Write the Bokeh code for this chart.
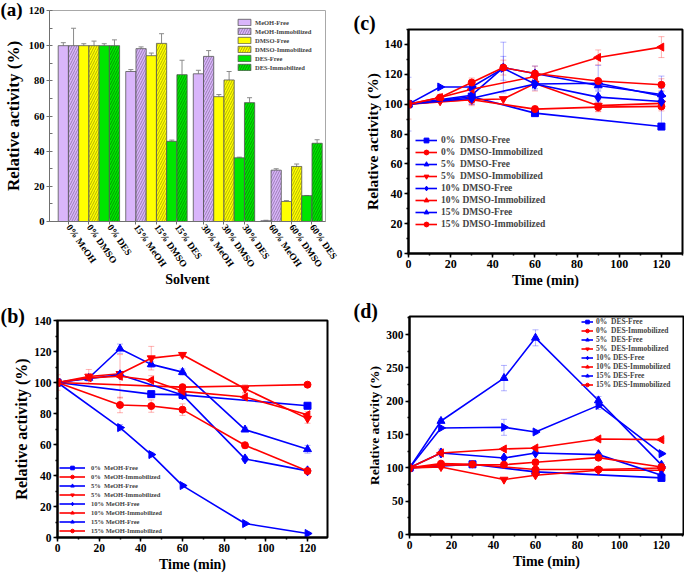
import math
from bokeh.plotting import figure
from bokeh.models import (ColumnDataSource, Whisker, TeeHead, Legend, LegendItem, Title,
                          FixedTicker, SingleIntervalTicker, Range1d)
from bokeh.layouts import column, row
from bokeh.embed import file_html
from bokeh.resources import INLINE

FONT = "Liberation Serif"

# ---------------- panel (a) data ----------------
categories = ["0% MeOH", "0% DMSO", "0% DES", "15% MeOH", "15% DMSO", "15% DES",
              "30% MeOH", "30% DMSO", "30% DES", "60% MeOH", "60% DMSO", "60% DES"]
solvents = ["MeOH", "DMSO", "DES"]
free_vals = [100, 100, 100, 85.3, 94.3, 45.6, 84.0, 71.0, 36.2, 0.4, 11.4, 14.7]
imm_vals = [100, 100, 100, 98.3, 101.3, 83.5, 93.9, 80.5, 67.6, 29.2, 31.3, 44.5]
free_err = [1.7, 1.1, 1.1, 1.1, 1.5, 0.7, 2.0, 1.2, 0.4, 0.3, 0.5, 0.1]
imm_err = [9.9, 2.6, 3.3, 1.0, 5.5, 8.2, 3.3, 4.8, 2.8, 0.8, 1.4, 2.0]
solvent_colors = ["#D9B5FA", "#FFFF00", "#00E600"]
hatch_colors = ["#6A5580", "#7A7A00", "#006400"]

# ---------------- time-course data ----------------
times = [0, 15, 30, 45, 60, 90, 120]
concs = ["0%", "5%", "10%", "15%"]

meoh_free_0 = [100, None, None, 92.5, 92.0, None, 85.0]
meoh_free_5 = [100, 102.9, 121.8, 111.7, 106.7, 69.6, 56.9]
meoh_free_10 = [100, None, 105.0, None, 92.0, 50.7, 43.0]
meoh_free_15 = [100, None, 70.9, 53.5, 33.5, 9.0, 2.6]
meoh_imm_0 = [100, None, None, None, 97.0, None, 98.6]
meoh_imm_5 = [100, 103.9, 105.6, 115.7, 117.9, 96.0, 76.7]
meoh_imm_10 = [100, 103.0, 104.0, 101.4, 94.3, 90.6, 79.2]
meoh_imm_15 = [100, None, 85.5, 84.8, 82.5, 59.5, 42.9]
meoh_free_err_0 = [1.5, 0, 0, 2, 1.5, 0, 1.5]
meoh_free_err_5 = [1.5, 2, 3, 2, 2, 1.5, 2.5]
meoh_free_err_10 = [1, 0, 1.5, 0, 1.5, 1.5, 1.5]
meoh_free_err_15 = [1, 0, 2, 1.5, 1, 1, 1]
meoh_imm_err_0 = [5, 0, 0, 0, 1.5, 0, 1]
meoh_imm_err_5 = [0, 4.5, 0, 7.6, 1.5, 2.5, 3]
meoh_imm_err_10 = [0, 0, 14, 3, 1, 2, 2]
meoh_imm_err_15 = [0, 0, 5, 4, 3.7, 2, 1.5]

dmso_free_0 = [100, None, 105.0, None, 94.0, None, 85.0]
dmso_free_5 = [100, None, 106.0, 124.5, 120.5, 112.5, 106.5]
dmso_free_10 = [100, None, 104.0, None, 113.5, 104.7, 101.8]
dmso_free_15 = [100, 111.5, 111.5, 124.0, 113.5, 114.0, 105.5]
dmso_imm_0 = [100, None, 103.0, None, 96.7, 98.0, 98.5]
dmso_imm_5 = [100, 102.0, 103.0, 103.5, 113.8, 99.0, 100.5]
dmso_imm_10 = [100, 104.5, 110.0, None, 118.5, 131.3, 138.2]
dmso_imm_15 = [100, 104.5, 114.5, 124.5, 120.5, 115.5, 113.0]
dmso_free_err_0 = [18, 0, 0, 0, 0, 0, 0]
dmso_free_err_5 = [0, 0, 6, 17, 5, 3, 4]
dmso_free_err_10 = [0, 0, 4, 0, 4, 4, 17]
dmso_free_err_15 = [0, 1, 1, 8, 3, 12, 3]
dmso_imm_err_0 = [10, 0, 4, 0, 2, 3, 3]
dmso_imm_err_5 = [0, 0, 3, 0, 5, 4, 2]
dmso_imm_err_10 = [0, 0, 3, 0, 3, 5, 7]
dmso_imm_err_15 = [0, 0, 3, 5, 5, 0, 4]

des_free_0 = [100, None, 105.3, None, 93.9, None, 84.9]
des_free_5 = [100, 170.2, None, 234.6, 295.0, 201.0, 104.5]
des_free_10 = [100, 122.3, None, 114.8, 122.3, 119.8, 89.0]
des_free_15 = [100, 159.8, None, 160.8, 153.8, 193.7, 121.3]
des_imm_0 = [100, 106.3, 105.3, None, 97.4, 97.4, 99.8]
des_imm_5 = [100, 101.3, None, 82.4, 88.9, 96.4, 96.4]
des_imm_10 = [100, 122.3, None, 128.3, 129.8, 143.3, 142.3]
des_imm_15 = [100, 104.0, None, 104.8, 108.3, 115.3, 101.3]
des_free_err_0 = [4, 0, 0, 0, 0, 0, 2]
des_free_err_5 = [0, 3, 0, 19, 12, 6, 3]
des_free_err_10 = [0, 0, 0, 0, 0, 0, 3]
des_free_err_15 = [0, 0, 0, 12, 3, 6, 2]
des_imm_err_0 = [0, 0, 0, 0, 0, 0, 0]
des_imm_err_5 = [0, 0, 0, 0, 0, 0, 0]
des_imm_err_10 = [0, 6, 0, 0, 0, 3, 2]
des_imm_err_15 = [0, 0, 0, 0, 0, 0, 0]

BLUE = "#0000FF"
RED = "#FF0000"
free_markers = [("square", 0.0, 7), ("triangle", 0.0, 8), ("diamond", 0.0, 10), ("triangle", -math.pi / 2, 8)]
imm_markers = [("circle", 0.0, 7), ("inverted_triangle", 0.0, 8), ("triangle", math.pi / 2, 8), ("circle", 0.0, 7)]


def bold_axis(ax, tick_fs, label_fs, color="black", lw=2):
    ax.axis_line_width = lw
    ax.axis_line_color = color
    ax.major_tick_line_color = color
    ax.minor_tick_line_color = color
    ax.major_tick_line_width = lw
    ax.minor_tick_line_width = lw
    ax.major_label_text_font = FONT
    ax.major_label_text_font_style = "bold"
    ax.major_label_text_font_size = tick_fs
    ax.major_label_text_color = "black"
    ax.axis_label_text_font = FONT
    ax.axis_label_text_font_style = "bold"
    ax.axis_label_text_font_size = label_fs
    ax.axis_label_text_color = "black"
    ax.major_label_standoff = 2
    ax.axis_label_standoff = 2


def add_letter_title(p, text, offset, standoff, size="20px"):
    p.add_layout(Title(text=text, align="left", offset=offset, standoff=standoff,
                       vertical_align="bottom", text_font=FONT, text_font_style="bold",
                       text_font_size=size, text_color="black"), "above")


# ---------------- panel (a) ----------------
pa = figure(width=340, height=290, output_backend="svg", toolbar_location=None, title=None,
            x_range=Range1d(-4.25, 130.6), y_range=Range1d(0, 120),
            min_border_left=49, min_border_right=15, min_border_top=10, min_border_bottom=56,
            x_axis_label="Solvent", y_axis_label="Relative activity (%)")
pa.xgrid.visible = False
pa.ygrid.visible = False
pa.outline_line_color = "#A8A8A8"
pa.outline_line_width = 1
cat_pos = [(i // 3) * 33 + (i % 3) * 10 + 5 for i in range(len(categories))]
items_a = []
for s, solv in enumerate(solvents):
    idx = [g * 3 + s for g in range(4)]
    xf = [cat_pos[i] - 2.5 for i in idx]
    xi = [cat_pos[i] + 2.5 for i in idx]
    rf = pa.vbar(x=xf, top=[free_vals[i] for i in idx], width=5, fill_color=solvent_colors[s],
                 line_color="#555555", line_width=0.8)
    ri = pa.vbar(x=xi, top=[imm_vals[i] for i in idx], width=5, fill_color=solvent_colors[s],
                 line_color="#555555", line_width=0.8, hatch_pattern="/", hatch_color=hatch_colors[s],
                 hatch_scale=5, hatch_weight=0.7, hatch_alpha=0.8)
    for xs, vals, errs in ((xf, free_vals, free_err), (xi, imm_vals, imm_err)):
        src = ColumnDataSource(dict(x=xs, lo=[vals[i] for i in idx], hi=[vals[i] + errs[i] for i in idx]))
        pa.add_layout(Whisker(source=src, base="x", lower="lo", upper="hi", line_color="#8A8A8A",
                              line_width=1, lower_head=None,
                              upper_head=TeeHead(size=5, line_color="#8A8A8A", line_width=1)))
    items_a.append(LegendItem(label=f"{solv}-Free", renderers=[rf]))
    items_a.append(LegendItem(label=f"{solv}-Immobilized", renderers=[ri]))
xa = pa.xaxis[0]
ya = pa.yaxis[0]
bold_axis(xa, "9.5px", "14px", color="#707070", lw=1)
bold_axis(ya, "10.5px", "17px", color="#707070", lw=1)
xa.ticker = FixedTicker(ticks=cat_pos)
xa.major_label_overrides = {cp: c for cp, c in zip(cat_pos, categories)}
xa.major_label_orientation = -0.96
xa.major_tick_in = 3
xa.major_tick_out = 3
xa.major_label_standoff = 1
xa.axis_label_standoff = -3
ya.ticker = SingleIntervalTicker(interval=20, num_minor_ticks=2)
ya.major_tick_out = 3
ya.major_tick_in = 0
ya.minor_tick_in = 3
ya.minor_tick_out = 0
ya.major_label_standoff = 2
ya.axis_label_standoff = 3
leg_a = Legend(items=items_a, location="top_right", margin=8, glyph_width=16, glyph_height=8,
               label_height=8, label_width=62, spacing=1, padding=0, label_standoff=3,
               label_text_font=FONT, label_text_font_style="bold", label_text_font_size="6.5px",
               border_line_alpha=0, background_fill_alpha=0)
pa.add_layout(leg_a)
add_letter_title(pa, "(a)", -49, -18, "19px")


# ---------------- time panels ----------------
def time_panel(solvent, free_sets, free_errs, imm_sets, imm_errs, width, height, borders,
               xmax, ymax, yint, tick_fs, ylab_fs, leg_kw, leg_fs, leg_row, leg_gw, leg_so):
    p = figure(width=width, height=height, output_backend="svg", toolbar_location=None, title=None,
               x_range=Range1d(0, xmax), y_range=Range1d(0, ymax),
               min_border_left=borders[0], min_border_right=borders[1],
               min_border_top=borders[2], min_border_bottom=borders[3],
               x_axis_label="Time (min)", y_axis_label="Relative activity (%)")
    p.xgrid.visible = False
    p.ygrid.visible = False
    p.outline_line_color = "black"
    p.outline_line_width = 2
    xa, ya = p.xaxis[0], p.yaxis[0]
    bold_axis(xa, tick_fs, "14px")
    bold_axis(ya, tick_fs, ylab_fs)
    ya.axis_label_standoff = 1
    xa.ticker = SingleIntervalTicker(interval=20, num_minor_ticks=2)
    ya.ticker = SingleIntervalTicker(interval=yint, num_minor_ticks=2)
    for ax in (xa, ya):
        ax.major_tick_out = 4
        ax.major_tick_in = 0
        ax.minor_tick_out = 2
        ax.minor_tick_in = 0
        ax.major_tick_line_width = 1.5
        ax.minor_tick_line_width = 1.5
    items = []
    for i in range(4):
        for vals, errs, color, mk, kind in ((free_sets[i], free_errs[i], BLUE, free_markers[i], "Free"),
                                            (imm_sets[i], imm_errs[i], RED, imm_markers[i], "Immobilized")):
            pts = [(t, v, e) for t, v, e in zip(times, vals, errs) if v is not None]
            src = ColumnDataSource(dict(x=[q[0] for q in pts], y=[q[1] for q in pts]))
            ep = [q for q in pts if q[2]]
            if ep:
                esrc = ColumnDataSource(dict(x=[q[0] for q in ep], lo=[q[1] - q[2] for q in ep],
                                             hi=[q[1] + q[2] for q in ep]))
                p.add_layout(Whisker(source=esrc, base="x", lower="lo", upper="hi", line_color=color,
                                     line_alpha=0.3, line_width=1,
                                     upper_head=TeeHead(size=6, line_color=color, line_alpha=0.3),
                                     lower_head=TeeHead(size=6, line_color=color, line_alpha=0.3)))
            lr = p.line("x", "y", source=src, line_color=color, line_width=1.6)
            sr = p.scatter("x", "y", source=src, marker=mk[0], angle=mk[1], size=mk[2],
                           fill_color=color, line_color=color)
            sep = "  " if len(concs[i]) == 2 else " "
            items.append(LegendItem(label=f"{concs[i]}{sep}{solvent}-{kind}", renderers=[lr, sr]))
    leg = Legend(items=items, glyph_width=leg_gw, glyph_height=leg_row,
                 label_height=leg_row, spacing=0, padding=1, label_standoff=leg_so,
                 label_text_font=FONT, label_text_font_style="bold", label_text_font_size=leg_fs,
                 border_line_alpha=0, background_fill_alpha=0, **leg_kw)
    p.add_layout(leg)
    return p


pb = time_panel("MeOH",
                [meoh_free_0, meoh_free_5, meoh_free_10, meoh_free_15],
                [meoh_free_err_0, meoh_free_err_5, meoh_free_err_10, meoh_free_err_15],
                [meoh_imm_0, meoh_imm_5, meoh_imm_10, meoh_imm_15],
                [meoh_imm_err_0, meoh_imm_err_5, meoh_imm_err_10, meoh_imm_err_15],
                340, 286, (57, 13, 30, 39), 129.6, 140, 20, "11.5px", "16px",
                dict(location=(1, 1)), "6.5px", 9, 26, 6)
add_letter_title(pb, "(b)", -57, -13)

pc = time_panel("DMSO",
                [dmso_free_0, dmso_free_5, dmso_free_10, dmso_free_15],
                [dmso_free_err_0, dmso_free_err_5, dmso_free_err_10, dmso_free_err_15],
                [dmso_imm_0, dmso_imm_5, dmso_imm_10, dmso_imm_15],
                [dmso_imm_err_0, dmso_imm_err_5, dmso_imm_err_10, dmso_imm_err_15],
                344, 290, (68, 2, 29, 34), 130, 150, 20, "12px", "15.5px",
                dict(location=(6, 22)), "9.5px", 12, 22, 4)
add_letter_title(pc, "(c)", -55, -9)

pd_ = time_panel("DES",
                 [des_free_0, des_free_5, des_free_10, des_free_15],
                 [des_free_err_0, des_free_err_5, des_free_err_10, des_free_err_15],
                 [des_imm_0, des_imm_5, des_imm_10, des_imm_15],
                 [des_imm_err_0, des_imm_err_5, des_imm_err_10, des_imm_err_15],
                 344, 286, (69, 1, 26, 42), 130.5, 327, 50, "11.5px", "13.5px",
                 dict(location="top_right", margin=0, label_width=86), "7.5px", 9, 12, 3)
add_letter_title(pd_, "(d)", -56, -11)

layout = column(row(column(pa), column(pc)), row(column(pb), column(pd_)))
open("out.html", "w").write(file_html(layout, INLINE))
